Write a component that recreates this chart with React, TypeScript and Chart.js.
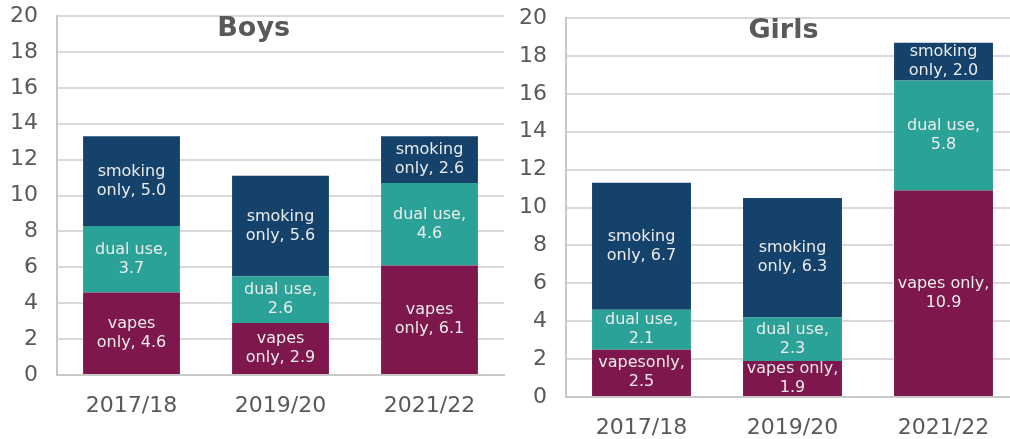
import React, { useEffect, useRef } from "react";
import { Chart, registerables } from "chart.js";
Chart.register(...registerables);

const categories = ["2017/18", "2019/20", "2021/22"];

const boysVapes = [4.6, 2.9, 6.1];
const boysDual = [3.7, 2.6, 4.6];
const boysSmoking = [5.0, 5.6, 2.6];

const girlsVapes = [2.5, 1.9, 10.9];
const girlsDual = [2.1, 2.3, 5.8];
const girlsSmoking = [6.7, 6.3, 2.0];

const boysVapesText = ["vapes\nonly, ", "vapes\nonly, ", "vapes\nonly, "];
const boysDualText = ["dual use,\n", "dual use,\n", "dual use,\n"];
const boysSmokingText = ["smoking\nonly, ", "smoking\nonly, ", "smoking\nonly, "];

const girlsVapesText = ["vapesonly,\n", "vapes only,\n", "vapes only,\n"];
const girlsDualText = ["dual use,\n", "dual use,\n", "dual use,\n"];
const girlsSmokingText = ["smoking\nonly, ", "smoking\nonly, ", "smoking\nonly, "];

const yMin = 0;
const yMax = 20;
const yStep = 2;

const COLOR_VAPES = "#7D174C";
const COLOR_DUAL = "#2AA298";
const COLOR_SMOKING = "#14426B";
const GRID = "#d9d9d9";
const TEXT = "#595959";
const FONT = "'DejaVu Sans', Verdana, sans-serif";

const segLabelPlugin = {
  id: "segLabels",
  afterDatasetsDraw(chart: any) {
    const ctx = chart.ctx;
    ctx.save();
    ctx.fillStyle = "#ececec";
    ctx.font = `16px ${FONT}`;
    ctx.textAlign = "center";
    ctx.textBaseline = "middle";
    chart.data.datasets.forEach((ds: any, di: number) => {
      const meta = chart.getDatasetMeta(di);
      meta.data.forEach((bar: any, i: number) => {
        const text: string = ds.labelText[i] + Number(ds.data[i]).toFixed(1);
        const lines = text.split("\n");
        const cy = (bar.y + bar.base) / 2;
        const lh = 19;
        lines.forEach((ln, k) => {
          ctx.fillText(ln, bar.x, cy + (k - (lines.length - 1) / 2) * lh);
        });
      });
    });
    ctx.restore();
  },
};

const titlePlugin = {
  id: "innerTitle",
  afterDraw(chart: any) {
    const o = chart.options.plugins.innerTitle;
    if (!o) return;
    const { ctx, chartArea } = chart;
    ctx.save();
    ctx.fillStyle = TEXT;
    ctx.font = `bold 27px ${FONT}`;
    ctx.textAlign = "center";
    ctx.textBaseline = "middle";
    ctx.fillText(o.text, chartArea.left + o.fx * (chartArea.right - chartArea.left), chartArea.top + 13);
    ctx.restore();
  },
};

function makeConfig(p: any) {
  return {
    type: "bar",
    data: {
      labels: categories,
      datasets: [
        { label: "vapes only", data: p.vapes, backgroundColor: COLOR_VAPES, labelText: p.vapesText },
        { label: "dual use", data: p.dual, backgroundColor: COLOR_DUAL, labelText: p.dualText },
        { label: "smoking only", data: p.smoking, backgroundColor: COLOR_SMOKING, labelText: p.smokingText },
      ].map((d) => ({ ...d, borderWidth: 0, barPercentage: p.barPct, categoryPercentage: 1 })),
    },
    options: {
      responsive: false,
      animation: false,
      layout: { padding: { top: p.top, right: p.right, left: 0, bottom: 0 } },
      plugins: {
        legend: { display: false },
        tooltip: { enabled: false },
        innerTitle: { text: p.title, fx: p.fx },
      },
      scales: {
        x: {
          stacked: true,
          grid: { display: false },
          border: { display: true, color: "#c8c8c8", width: 2 },
          ticks: { color: TEXT, font: { family: FONT, size: 22 }, padding: 10 },
          afterFit: (s: any) => {
            s.height = p.xHeight;
            s.paddingLeft = 0;
            s.paddingRight = 0;
          },
        },
        y: {
          stacked: true,
          min: yMin,
          max: yMax,
          ticks: { stepSize: yStep, color: TEXT, font: { family: FONT, size: 22 }, padding: 19 },
          grid: { color: GRID, lineWidth: 2, drawTicks: false },
          border: { display: true, color: "#c8c8c8", width: 2 },
          afterFit: (s: any) => {
            s.width = p.yWidth;
            s.paddingTop = 0;
            s.paddingBottom = 0;
          },
        },
      },
    },
    plugins: [segLabelPlugin, titlePlugin],
  };
}

function BarChart(props: any) {
  const ref = useRef<HTMLCanvasElement>(null);
  useEffect(() => {
    const chart = new Chart(ref.current as any, makeConfig(props.cfg) as any);
    return () => chart.destroy();
  }, []);
  return (
    <canvas
      ref={ref}
      width={props.w}
      height={props.h}
      style={{ position: "absolute", left: props.left, top: 0, width: props.w, height: props.h }}
    />
  );
}

export default function App() {
  const boys = {
    vapes: boysVapes, dual: boysDual, smoking: boysSmoking,
    vapesText: boysVapesText, dualText: boysDualText, smokingText: boysSmokingText,
    title: "Boys", fx: 0.44, barPct: 0.65,
    top: 16, right: 6, xHeight: 64, yWidth: 57,
  };
  const girls = {
    vapes: girlsVapes, dual: girlsDual, smoking: girlsSmoking,
    vapesText: girlsVapesText, dualText: girlsDualText, smokingText: girlsSmokingText,
    title: "Girls", fx: 0.48, barPct: 0.655,
    top: 18, right: 1, xHeight: 42, yWidth: 56,
  };
  return (
    <div style={{ position: "fixed", left: 0, top: 0, width: 1010, height: 439, overflow: "hidden", background: "#fff" }}>
      <BarChart cfg={boys} left={0} w={510} h={439} />
      <BarChart cfg={girls} left={510} w={510} h={439} />
    </div>
  );
}
